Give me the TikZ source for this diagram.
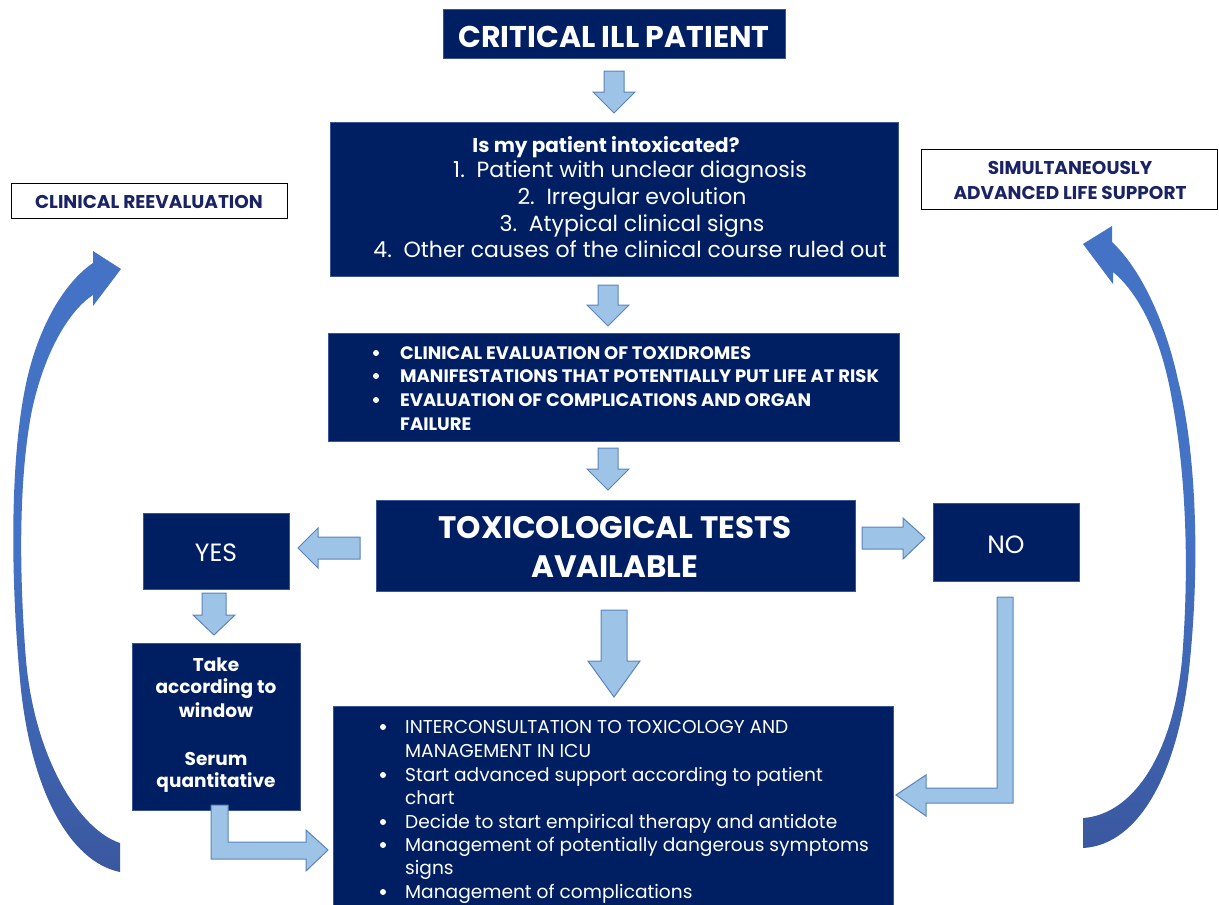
\documentclass[tikz,border=0pt]{standalone}
\usepackage{fontspec}
\setmainfont{Poppins}
\usetikzlibrary{calc}
\definecolor{navy}{HTML}{001E62}
\definecolor{navyline}{HTML}{3A5494}
\definecolor{lblue}{HTML}{9DC3E6}
\definecolor{lbord}{HTML}{5B84BE}
\definecolor{cblue}{HTML}{4472C4}
\definecolor{cdark}{HTML}{3A58A0}
\definecolor{sidetext}{HTML}{1A2366}
\newcommand{\fs}[1]{\fontsize{#1pt}{#1pt}\selectfont}
\newcommand{\bdown}[6]{\filldraw[blockarrow] ({#1-#4},#2) -- ({#1+#4},#2) -- ({#1+#4},{#3-#6}) -- ({#1+#5},{#3-#6}) -- (#1,#3) -- ({#1-#5},{#3-#6}) -- ({#1-#4},{#3-#6}) -- cycle;}
\tikzset{
  box/.style={fill=navy, draw=navyline, line width=0.8pt, anchor=north west, inner sep=0pt},
  sidebox/.style={fill=white, draw=black, line width=1.2pt, anchor=north west, inner sep=0pt},
  wtxt/.style={text=white, inner sep=0pt, anchor=base},
  wleft/.style={text=white, inner sep=0pt, anchor=base west},
  bul/.style={circle, fill=white, inner sep=0pt, minimum size=6pt},
  stxt/.style={text=sidetext, inner sep=0pt, anchor=base, font=\fs{18.5}\bfseries},
  blockarrow/.style={fill=lblue, draw=lbord, line width=1pt, line join=miter},
  curved/.style={top color=cblue, bottom color=cdark, middle color=cblue},
}
\begin{document}
\begin{tikzpicture}[x=1pt,y=-1pt]
\clip (0,0) rectangle (1219,905);
\fill[white] (0,0) rectangle (1219,905);

% boxes
\node[box, minimum width=342pt, minimum height=49pt] (title) at (443,9) {};
\node[box, minimum width=568pt, minimum height=154pt] (q) at (330,122) {};
\node[box, minimum width=571pt, minimum height=108pt] (ev) at (328,333) {};
\node[box, minimum width=479pt, minimum height=91pt] (tox) at (376,500) {};
\node[box, minimum width=146pt, minimum height=76pt] (yes) at (143,513) {};
\node[box, minimum width=146pt, minimum height=78pt] (no) at (933,503) {};
\node[box, minimum width=168pt, minimum height=167pt] (take) at (132,643) {};
\node[box, minimum width=560pt, minimum height=219pt] (mgmt) at (333,706) {};
\node[sidebox, minimum width=276pt, minimum height=35pt] (reev) at (11,183) {};
\node[sidebox, minimum width=296pt, minimum height=60pt] (sim) at (921,149) {};

% texts
\node[wtxt, font=\fs{30}\bfseries] (titletxt) at (614,47) {CRITICAL ILL PATIENT};

\node[wtxt, font=\fs{20}\bfseries] (qh) at (606,152) {Is my patient intoxicated?};
\node[wtxt, font=\fs{22}] (q1) at (630,177) {1.\ \ Patient with unclear diagnosis};
\node[wtxt, font=\fs{22}] (q2) at (632,204) {2.\ \ Irregular evolution};
\node[wtxt, font=\fs{22}] (q3) at (632,231) {3.\ \ Atypical clinical signs};
\node[wtxt, font=\fs{22}] (q4) at (630,257) {4.\ \ Other causes of the clinical course ruled out};

\foreach \yy/\nm in {359/b1,382/b2,406/b3}{\node[bul] (e\nm) at (376,\yy-6) {};}
\node[wleft, font=\fs{18}\bfseries] (e1) at (400,359) {CLINICAL EVALUATION OF TOXIDROMES};
\node[wleft, font=\fs{18}\bfseries] (e2) at (400,382) {MANIFESTATIONS THAT POTENTIALLY PUT LIFE AT RISK};
\node[wleft, font=\fs{18}\bfseries] (e3) at (400,406) {EVALUATION OF COMPLICATIONS AND ORGAN};
\node[wleft, font=\fs{18}\bfseries] (e4) at (400,430) {FAILURE};

\node[wtxt, font=\fs{31}\bfseries] (tox1) at (615,538) {TOXICOLOGICAL TESTS};
\node[wtxt, font=\fs{31}\bfseries] (tox2) at (615,577) {AVAILABLE};

\node[wtxt, font=\fs{25}] (yestxt) at (216,561) {YES};
\node[wtxt, font=\fs{25}] (notxt) at (1006,553) {NO};

\node[wtxt, font=\fs{18.5}\bfseries] (t1) at (216,671) {Take};
\node[wtxt, font=\fs{18.5}\bfseries] (t2) at (216,693) {according to};
\node[wtxt, font=\fs{18.5}\bfseries] (t3) at (216,717) {window};
\node[wtxt, font=\fs{18.5}\bfseries] (t4) at (216,765) {Serum};
\node[wtxt, font=\fs{18.5}\bfseries] (t5) at (216,787) {quantitative};

\foreach \yy/\nm in {733/a,781/b,828/c,851/d,898/e}{\node[bul] (m\nm) at (383,\yy-6) {};}
\node[wleft, font=\fs{18.6}] (m1) at (405,733) {INTERCONSULTATION TO TOXICOLOGY AND};
\node[wleft, font=\fs{18.6}] (m2) at (405,757) {MANAGEMENT IN ICU};
\node[wleft, font=\fs{18.6}] (m3) at (405,781) {Start advanced support according to patient};
\node[wleft, font=\fs{18.6}] (m4) at (405,804) {chart};
\node[wleft, font=\fs{18.6}] (m5) at (405,828) {Decide to start empirical therapy and antidote};
\node[wleft, font=\fs{18.6}] (m6) at (405,851) {Management of potentially dangerous symptoms};
\node[wleft, font=\fs{18.6}] (m7) at (405,874) {signs};
\node[wleft, font=\fs{18.6}] (m8) at (405,898) {Management of complications};

\node[stxt] (reevtxt) at (149,208) {CLINICAL REEVALUATION};
\node[stxt] (sim1) at (1070,174) {SIMULTANEOUSLY};
\node[stxt] (sim2) at (1070,199) {ADVANCED LIFE SUPPORT};

% block arrows
\bdown{614}{71}{113}{10}{21}{21}
\bdown{608}{285}{326}{10}{21}{21}
\bdown{608}{448}{490}{10}{21}{21}
\bdown{214}{593}{635}{12}{21}{20}
\bdown{614}{610}{697}{13}{26}{36}
\filldraw[blockarrow] (360,537) -- (318,537) -- (318,528) -- (298,548) -- (318,568) -- (318,559) -- (360,559) -- cycle;
\filldraw[blockarrow] (862,527) -- (903,527) -- (903,518) -- (925,538) -- (903,559) -- (903,549) -- (862,549) -- cycle;
\filldraw[blockarrow] (997,597) -- (1013,597) -- (1013,803) -- (926,803) -- (926,816) -- (896,795) -- (926,775) -- (926,788) -- (997,788) -- cycle;
\filldraw[blockarrow] (211,805) -- (228,805) -- (228,842) -- (306,842) -- (306,830) -- (328,850) -- (306,871) -- (306,859) -- (211,859) -- cycle;

% curved arrows
\shade[curved] (120,843) -- (120,872)
  .. controls (70,862) and (30,790) .. (20,680)
  .. controls (10,570) and (10,450) .. (28,375)
  .. controls (42,318) and (68,280) .. (93,263)
  -- (93,251) -- (121,269) -- (93,306) -- (93,295)
  .. controls (70,310) and (45,350) .. (32,410)
  .. controls (20,470) and (18,560) .. (26,660)
  .. controls (35,760) and (80,830) .. (120,843) -- cycle;
\shade[curved] (1083,818) -- (1083,848)
  .. controls (1140,845) and (1180,770) .. (1190,660)
  .. controls (1200,560) and (1196,450) .. (1178,380)
  .. controls (1165,320) and (1140,268) .. (1112,242)
  -- (1112,226) -- (1083,244) -- (1113,284) -- (1113,272)
  .. controls (1135,290) and (1160,330) .. (1172,400)
  .. controls (1185,470) and (1190,560) .. (1182,660)
  .. controls (1172,760) and (1130,815) .. (1083,818) -- cycle;
\end{tikzpicture}
\end{document}
